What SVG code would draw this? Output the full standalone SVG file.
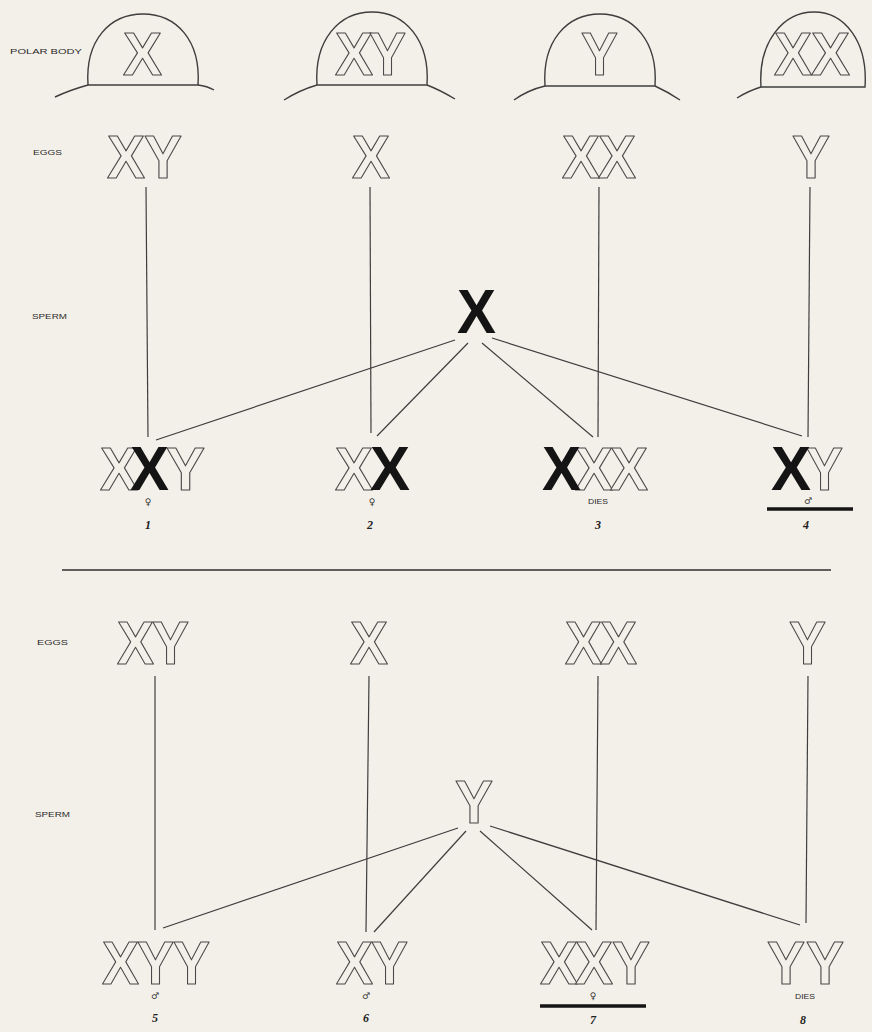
<svg xmlns="http://www.w3.org/2000/svg" width="872" height="1032" viewBox="0 0 872 1032">
<style>
.bg{fill:#f3f0e9}
.o{font-family:"Liberation Sans",Arial,sans-serif;font-weight:bold;font-size:62px;fill:#f3f0e9;stroke:#4a4a4a;stroke-width:1.2;stroke-linejoin:round}
.b{font-family:"Liberation Sans",Arial,sans-serif;font-weight:bold;font-size:63px;fill:#141414}
.lbl{font-family:"Liberation Sans",Arial,sans-serif;font-size:7px;fill:#2a2a2a}
.sym{font-family:"DejaVu Sans",sans-serif;font-size:9px;fill:#333;text-anchor:middle}
.tiny{font-family:"Liberation Sans",Arial,sans-serif;font-size:6.5px;fill:#2a2a2a}
.num{font-family:"Liberation Serif",serif;font-style:italic;font-weight:bold;font-size:12px;fill:#222;text-anchor:middle}
.ln{stroke:#3e3e3e;stroke-width:1.2;fill:none}
.dome{stroke:#3e3e3e;stroke-width:1.4;fill:none}
.ul{stroke:#151515;stroke-width:3.5}
</style>
<rect class="bg" x="0" y="0" width="872" height="1032"/>

<g id="labels">
<text class="lbl" x="10" y="54" textLength="72" lengthAdjust="spacingAndGlyphs">POLAR BODY</text>
<text class="lbl" x="33" y="155" textLength="29" lengthAdjust="spacingAndGlyphs">EGGS</text>
<text class="lbl" x="32" y="319" textLength="35" lengthAdjust="spacingAndGlyphs">SPERM</text>
<text class="lbl" x="37" y="645" textLength="31" lengthAdjust="spacingAndGlyphs">EGGS</text>
<text class="lbl" x="35" y="817" textLength="35" lengthAdjust="spacingAndGlyphs">SPERM</text>
</g>

<g id="polar-bodies">
<g id="pb1">
<path class="dome" d="M88,85 C85,40 110,14 143,14 C176,14 201,40 198,85 Z"/>
<path class="dome" d="M55,97 Q70,90 88,85 M198,85 Q207,86 214,90"/>
<text class="o" x="123" y="75" textLength="39" lengthAdjust="spacingAndGlyphs">X</text>
</g>
<g id="pb2">
<path class="dome" d="M317,85 C314,40 339,12 372,12 C405,12 430,40 427,85 Z"/>
<path class="dome" d="M284,100 Q300,90 317,85 M427,85 Q440,90 455,99"/>
<text class="o" x="335" y="75" textLength="38" lengthAdjust="spacingAndGlyphs">X</text>
<text class="o" x="369" y="75" textLength="37" lengthAdjust="spacingAndGlyphs">Y</text>
</g>
<g id="pb3">
<path class="dome" d="M545,86 C542,41 567,14 600,14 C633,14 658,41 655,86 Z"/>
<path class="dome" d="M514,100 Q528,90 545,86 M655,86 Q668,92 680,100"/>
<text class="o" x="581" y="75" textLength="37" lengthAdjust="spacingAndGlyphs">Y</text>
</g>
<g id="pb4">
<path class="dome" d="M761,87 C758,42 783,12 814,12 C845,12 868,42 865,87 Z"/>
<path class="dome" d="M737,98 Q748,91 761,87"/>
<text class="o" x="774" y="75" textLength="38" lengthAdjust="spacingAndGlyphs">X</text>
<text class="o" x="811" y="75" textLength="39" lengthAdjust="spacingAndGlyphs">X</text>
</g>
</g>

<g id="connectors">
<line class="ln" x1="146" y1="187" x2="148" y2="437"/>
<line class="ln" x1="370" y1="187" x2="371" y2="433"/>
<line class="ln" x1="599" y1="187" x2="598" y2="437"/>
<line class="ln" x1="810" y1="187" x2="808" y2="437"/>
<line class="ln" x1="455" y1="340" x2="156" y2="440"/>
<line class="ln" x1="468" y1="343" x2="377" y2="436"/>
<line class="ln" x1="482" y1="343" x2="593" y2="437"/>
<line class="ln" x1="492" y1="338" x2="802" y2="436"/>
<line x1="62" y1="570" x2="831" y2="570" stroke="#2e2e2e" stroke-width="1.6"/>
<line class="ln" x1="155" y1="676" x2="155" y2="930"/>
<line class="ln" x1="369" y1="676" x2="366" y2="932"/>
<line class="ln" x1="598" y1="676" x2="596" y2="930"/>
<line class="ln" x1="808" y1="676" x2="806" y2="923"/>
<line class="ln" x1="458" y1="828" x2="163" y2="928"/>
<line class="ln" x1="466" y1="831" x2="374" y2="932"/>
<line class="ln" x1="480" y1="831" x2="592" y2="930"/>
<line class="ln" x1="490" y1="826" x2="800" y2="925"/>
</g>

<g id="eggs-top">
<g id="egg1"><text class="o" x="107" y="178" textLength="38" lengthAdjust="spacingAndGlyphs">X</text><text class="o" x="144" y="178" textLength="38" lengthAdjust="spacingAndGlyphs">Y</text></g>
<g id="egg2"><text class="o" x="352" y="178" textLength="38" lengthAdjust="spacingAndGlyphs">X</text></g>
<g id="egg3"><text class="o" x="562" y="178" textLength="38" lengthAdjust="spacingAndGlyphs">X</text><text class="o" x="598" y="178" textLength="38" lengthAdjust="spacingAndGlyphs">X</text></g>
<g id="egg4"><text class="o" x="792" y="178" textLength="38" lengthAdjust="spacingAndGlyphs">Y</text></g>
</g>

<g id="sperm-x"><text class="b" x="457" y="333" textLength="39" lengthAdjust="spacingAndGlyphs">X</text></g>

<g id="offspring1">
<text class="o" x="100" y="490" textLength="38" lengthAdjust="spacingAndGlyphs">X</text>
<text class="o" x="166" y="490" textLength="39" lengthAdjust="spacingAndGlyphs">Y</text>
<text class="b" x="130" y="490" textLength="39" lengthAdjust="spacingAndGlyphs">X</text>
<text class="sym" x="148" y="505">♀</text>
<text class="num" x="148" y="529">1</text>
</g>
<g id="offspring2">
<text class="o" x="335" y="490" textLength="38" lengthAdjust="spacingAndGlyphs">X</text>
<text class="b" x="370" y="490" textLength="40" lengthAdjust="spacingAndGlyphs">X</text>
<text class="sym" x="372" y="505">♀</text>
<text class="num" x="370" y="529">2</text>
</g>
<g id="offspring3">
<text class="o" x="575" y="490" textLength="38" lengthAdjust="spacingAndGlyphs">X</text>
<text class="o" x="610" y="490" textLength="38" lengthAdjust="spacingAndGlyphs">X</text>
<text class="b" x="542" y="490" textLength="39" lengthAdjust="spacingAndGlyphs">X</text>
<text class="tiny" x="588" y="504" textLength="20" lengthAdjust="spacingAndGlyphs">DIES</text>
<text class="num" x="598" y="529">3</text>
</g>
<g id="offspring4">
<text class="o" x="806" y="490" textLength="37" lengthAdjust="spacingAndGlyphs">Y</text>
<text class="b" x="771" y="490" textLength="40" lengthAdjust="spacingAndGlyphs">X</text>
<text class="sym" x="808" y="504">♂</text>
<line class="ul" x1="767" y1="509" x2="853" y2="509"/>
<text class="num" x="806" y="529">4</text>
</g>

<g id="eggs-bottom">
<g id="egg5"><text class="o" x="117" y="664" textLength="37" lengthAdjust="spacingAndGlyphs">X</text><text class="o" x="152" y="664" textLength="37" lengthAdjust="spacingAndGlyphs">Y</text></g>
<g id="egg6"><text class="o" x="350" y="664" textLength="38" lengthAdjust="spacingAndGlyphs">X</text></g>
<g id="egg7"><text class="o" x="565" y="664" textLength="37" lengthAdjust="spacingAndGlyphs">X</text><text class="o" x="600" y="664" textLength="37" lengthAdjust="spacingAndGlyphs">X</text></g>
<g id="egg8"><text class="o" x="789" y="664" textLength="37" lengthAdjust="spacingAndGlyphs">Y</text></g>
</g>

<g id="sperm-y"><text class="o" x="455" y="823" textLength="38" lengthAdjust="spacingAndGlyphs">Y</text></g>

<g id="offspring5">
<text class="o" x="102" y="984" textLength="37" lengthAdjust="spacingAndGlyphs">X</text>
<text class="o" x="137" y="984" textLength="37" lengthAdjust="spacingAndGlyphs">Y</text>
<text class="o" x="173" y="984" textLength="37" lengthAdjust="spacingAndGlyphs">Y</text>
<text class="sym" x="155" y="999">♂</text>
<text class="num" x="155" y="1022">5</text>
</g>
<g id="offspring6">
<text class="o" x="336" y="984" textLength="37" lengthAdjust="spacingAndGlyphs">X</text>
<text class="o" x="371" y="984" textLength="37" lengthAdjust="spacingAndGlyphs">Y</text>
<text class="sym" x="366" y="999">♂</text>
<text class="num" x="366" y="1022">6</text>
</g>
<g id="offspring7">
<text class="o" x="540" y="984" textLength="38" lengthAdjust="spacingAndGlyphs">X</text>
<text class="o" x="575" y="984" textLength="38" lengthAdjust="spacingAndGlyphs">X</text>
<text class="o" x="612" y="984" textLength="38" lengthAdjust="spacingAndGlyphs">Y</text>
<text class="sym" x="593" y="999">♀</text>
<line class="ul" x1="540" y1="1006" x2="646" y2="1006"/>
<text class="num" x="593" y="1024">7</text>
</g>
<g id="offspring8">
<text class="o" x="767" y="984" textLength="38" lengthAdjust="spacingAndGlyphs">Y</text>
<text class="o" x="806" y="984" textLength="38" lengthAdjust="spacingAndGlyphs">Y</text>
<text class="tiny" x="795" y="999" textLength="20" lengthAdjust="spacingAndGlyphs">DIES</text>
<text class="num" x="803" y="1024">8</text>
</g>
</svg>
